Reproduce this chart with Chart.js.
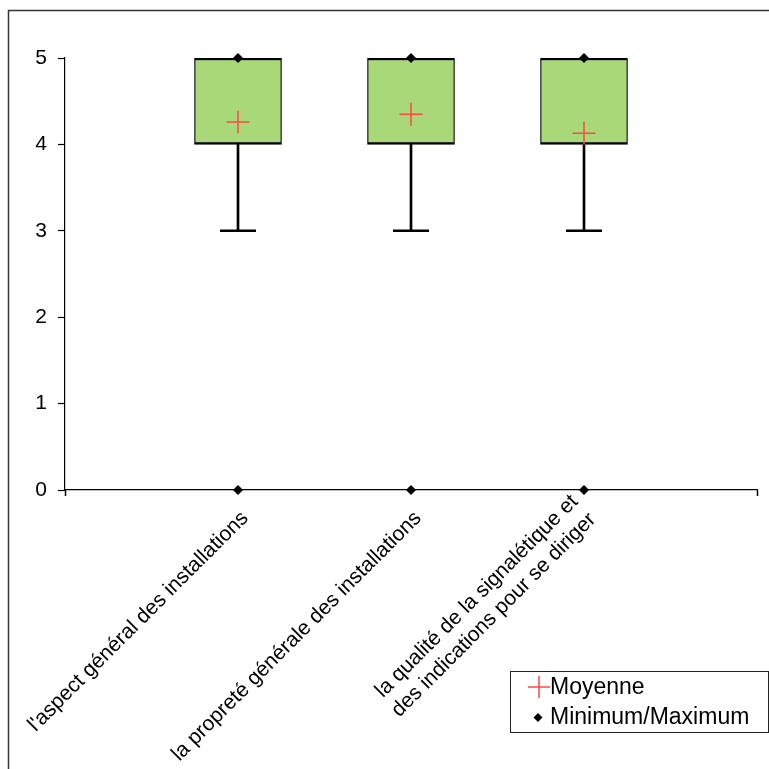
<!DOCTYPE html>
<html>
<head>
<meta charset="utf-8">
<script src="https://cdn.jsdelivr.net/npm/chart.js@4.4.1/dist/chart.umd.min.js"></script>
<style>
  html, body { margin: 0; padding: 0; background: #fff; }
  #wrap { width: 769px; height: 769px; }
</style>
</head>
<body>
<div id="wrap"><canvas id="boxChart" width="769" height="769"></canvas></div>
<script>
// categories and box plot values
const categories = [
    "l'aspect général des installations",
    "la propreté générale des installations",
    ["la qualité de la signalétique et", "des indications pour se diriger"]
];
const q1Values = [4, 4, 4];
const q3Values = [5, 5, 5];
const lowWhiskers = [3, 3, 3];
const meanValues = [4.26, 4.35, 4.13];
const minValues = [0, 0, 0];
const maxValues = [5, 5, 5];
const yTicks = [0, 1, 2, 3, 4, 5];
const legendLabels = ['Moyenne', 'Minimum/Maximum'];

const FONT = "'Liberation Sans', Arial, sans-serif";
const BOX_GREEN = 'rgb(168, 216, 120)';
const MEAN_RED = 'rgb(255, 70, 70)';
const LABEL_SIZE = 21;

const positions = categories.map((c, i) => i + 1);

const frameAndLegend = {
    id: 'frameAndLegend',
    beforeDraw(chart) {
        const ctx = chart.ctx;
        ctx.save();
        ctx.fillStyle = '#fff';
        ctx.fillRect(0, 0, chart.width, chart.height);
        ctx.strokeStyle = '#333';
        ctx.lineWidth = 1.5;
        ctx.beginPath();
        ctx.moveTo(8.5, chart.height + 2);
        ctx.lineTo(8.5, 10.5);
        ctx.lineTo(chart.width + 2, 10.5);
        ctx.stroke();
        ctx.restore();

        // center multi-line category labels on their tick, like the original
        const items = chart.scales.x.getLabelItems(chart.chartArea);
        items.forEach(item => {
            if (Array.isArray(item.label) && item.label.length > 1) {
                const shift = (item.label.length - 1) * LABEL_SIZE * 1.1;
                item.options.translation[0] -= shift * Math.SQRT1_2;
                item.options.translation[1] -= shift * Math.SQRT1_2;
            }
        });
    },
    afterDraw(chart) {
        const ctx = chart.ctx;
        ctx.save();
        ctx.strokeStyle = '#222';
        ctx.lineWidth = 1;
        ctx.strokeRect(510.5, 671.5, 258, 61);
        ctx.font = '23px ' + FONT;
        ctx.fillStyle = '#000';
        ctx.textBaseline = 'alphabetic';
        ctx.fillText(legendLabels[0], 550, 694);
        ctx.fillText(legendLabels[1], 550, 724);
        // red cross
        ctx.strokeStyle = MEAN_RED;
        ctx.lineWidth = 1.5;
        ctx.beginPath();
        ctx.moveTo(528, 687); ctx.lineTo(550, 687);
        ctx.moveTo(539, 676); ctx.lineTo(539, 698);
        ctx.stroke();
        // black diamond
        ctx.fillStyle = '#000';
        ctx.beginPath();
        ctx.moveTo(538, 713); ctx.lineTo(542.5, 717.5);
        ctx.lineTo(538, 722); ctx.lineTo(533.5, 717.5);
        ctx.closePath();
        ctx.fill();
        ctx.restore();
    }
};

new Chart(document.getElementById('boxChart'), {
    type: 'bar',
    data: {
        datasets: [
            {
                label: 'Boîte',
                data: positions.map((x, i) => ({ x: x, y: [q1Values[i], q3Values[i]] })),
                backgroundColor: BOX_GREEN,
                borderColor: '#000',
                borderWidth: { top: 2.5, bottom: 2.5, left: 1.2, right: 1.2 },
                borderSkipped: false,
                barThickness: 87,
                grouped: false,
                order: 4
            },
            {
                label: 'Moustache',
                data: positions.map((x, i) => ({ x: x, y: [lowWhiskers[i], q1Values[i]] })),
                backgroundColor: '#000',
                borderWidth: 0,
                barThickness: 2,
                grouped: false,
                order: 4
            },
            {
                type: 'scatter',
                label: 'Extrémité',
                data: positions.map((x, i) => ({ x: x, y: lowWhiskers[i] })),
                pointStyle: 'line',
                radius: 18,
                borderColor: '#000',
                borderWidth: 2.5,
                order: 3
            },
            {
                type: 'scatter',
                label: legendLabels[0],
                data: positions.map((x, i) => ({ x: x, y: meanValues[i] })),
                pointStyle: 'cross',
                radius: 11.5,
                borderColor: MEAN_RED,
                borderWidth: 1.5,
                order: 2
            },
            {
                type: 'scatter',
                label: legendLabels[1],
                data: positions.flatMap((x, i) => [{ x: x, y: minValues[i] }, { x: x, y: maxValues[i] }]),
                pointStyle: 'rectRot',
                radius: 4.5,
                backgroundColor: '#000',
                borderColor: '#000',
                borderWidth: 1,
                clip: false,
                order: 1
            }
        ]
    },
    options: {
        responsive: false,
        animation: false,
        layout: { autoPadding: false, padding: { left: 0, right: 12, top: 58, bottom: 0 } },
        plugins: { legend: { display: false }, tooltip: { enabled: false } },
        scales: {
            x: {
                type: 'linear',
                offset: false,
                min: 0,
                max: categories.length + 1,
                afterBuildTicks: scale => {
                    scale.ticks = [0, ...positions, categories.length + 1].map(v => ({ value: v }));
                },
                afterFit: scale => {
                    scale.height = 769 - 490;
                    scale.paddingLeft = 0;
                    scale.paddingRight = 0;
                },
                border: { color: '#000', width: 1.2 },
                grid: {
                    offset: false,
                    drawOnChartArea: false,
                    tickLength: 6,
                    tickWidth: 1.5,
                    tickColor: ctx => (ctx.index === 0 || ctx.index === categories.length + 1) ? '#000' : 'rgba(0,0,0,0)'
                },
                ticks: {
                    autoSkip: false,
                    minRotation: 45,
                    maxRotation: 45,
                    padding: 10,
                    labelOffset: 7,
                    color: '#000',
                    font: { family: FONT, size: LABEL_SIZE },
                    callback: value => categories[value - 1] || ''
                }
            },
            y: {
                min: 0,
                max: 5,
                afterBuildTicks: scale => { scale.ticks = yTicks.map(v => ({ value: v })); },
                afterFit: scale => { scale.width = 65; },
                border: { color: '#000', width: 1.2 },
                grid: { drawOnChartArea: false, tickLength: 7, tickColor: '#000', tickWidth: 1.2 },
                ticks: {
                    padding: 11,
                    color: '#000',
                    font: { family: FONT, size: 21 }
                }
            }
        }
    },
    plugins: [frameAndLegend]
});
</script>
</body>
</html>
